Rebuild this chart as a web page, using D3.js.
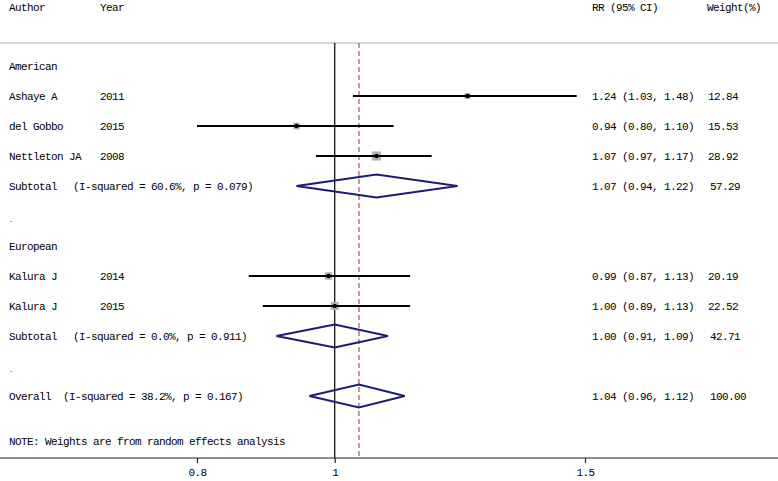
<!DOCTYPE html>
<html>
<head>
<meta charset="utf-8">
<script src="https://cdn.jsdelivr.net/npm/d3@7"></script>
<style>
  body { margin: 0; background: #fff; }
  text { font-family: "Liberation Mono", "DejaVu Sans Mono", monospace; font-size: 11px; letter-spacing: -0.6px; fill: #000; }
</style>
</head>
<body>
<svg id="forest" width="778" height="481"></svg>
<script>
// study level data
const authors = ['Ashaye A', 'del Gobbo', 'Nettleton JA', 'Kalura J', 'Kalura J'];
const years = ['2011', '2015', '2008', '2014', '2015'];
const rr = [1.24, 0.94, 1.07, 0.99, 1.00];
const lower = [1.03, 0.80, 0.97, 0.87, 0.89];
const upper = [1.48, 1.10, 1.17, 1.13, 1.13];
const weights = [12.84, 15.53, 28.92, 20.19, 22.52];
const studyRows = [1, 2, 3, 7, 8];

// pooled estimates
const poolLabels = ['Subtotal', 'Subtotal', 'Overall'];
const poolHet = ['(I-squared = 60.6%, p = 0.079)', '(I-squared = 0.0%, p = 0.911)', '(I-squared = 38.2%, p = 0.167)'];
const poolRR = [1.07, 1.00, 1.04];
const poolLower = [0.94, 0.91, 0.96];
const poolUpper = [1.22, 1.09, 1.12];
const poolWeights = ['57.29', '42.71', '100.00'];
const poolRows = [4, 9, 11];

const groupNames = ['American', 'European'];
const groupRows = [0, 6];
const spacerRows = [5, 10];

const xTicks = [0.8, 1, 1.5];

var svg = d3.select('#forest');
const width = +svg.attr('width');

var x = d3.scaleLog()
    .domain([0.8, 1.5])
    .range([197, 585]);

var row = d3.scaleLinear()
    .domain([0, 1])
    .range([66, 96]);

const topY = 43, axisY = 458;
const col = {author: 9, year: 100, rr: 592, weight: 708};
const fmt = d3.format('.2f');

// header
svg.append('text').attr('x', col.author).attr('y', 11).text('Author');
svg.append('text').attr('x', col.year).attr('y', 11).text('Year');
svg.append('text').attr('x', col.rr).attr('y', 11).text('RR (95% CI)');
svg.append('text').attr('x', col.weight - 1).attr('y', 11).text('Weight(%)');

svg.append('line')
    .attr('x1', 0).attr('x2', width)
    .attr('y1', topY).attr('y2', topY)
    .attr('stroke', '#c8c8c8').attr('stroke-width', 1.5);

// reference lines
svg.append('line')
    .attr('x1', x(1)).attr('x2', x(1))
    .attr('y1', topY).attr('y2', axisY)
    .attr('stroke', '#000').attr('stroke-width', 1.2);

svg.append('line')
    .attr('x1', x(poolRR[2])).attr('x2', x(poolRR[2]))
    .attr('y1', topY).attr('y2', axisY)
    .attr('stroke', '#a0505e').attr('stroke-width', 1.2)
    .attr('stroke-dasharray', '5,3');

// group labels + spacers
groupNames.forEach((g, i) => {
  svg.append('text').attr('x', col.author).attr('y', row(groupRows[i]) + 4).text(g);
});
spacerRows.forEach(r => {
  svg.append('text').attr('x', col.author).attr('y', row(r) + 6).text('.')
      .style('font-size', '7px');
});

// studies
var studies = authors.map((a, i) => ({
  author: a, year: years[i], rr: rr[i], lo: lower[i], hi: upper[i], w: weights[i], r: studyRows[i]
}));

var s = svg.append('g').selectAll('g')
    .data(studies)
    .enter().append('g')
    .attr('transform', d => `translate(0, ${row(d.r)})`);

s.append('text').attr('x', col.author).attr('y', 4).text(d => d.author);
s.append('text').attr('x', col.year).attr('y', 4).text(d => d.year);
s.append('rect')
    .attr('x', d => x(d.rr) - 1.7 * Math.sqrt(d.w) / 2)
    .attr('y', d => -1.7 * Math.sqrt(d.w) / 2)
    .attr('width', d => 1.7 * Math.sqrt(d.w))
    .attr('height', d => 1.7 * Math.sqrt(d.w))
    .attr('fill', '#b4b4b4');
s.append('line')
    .attr('x1', d => x(d.lo)).attr('x2', d => x(d.hi))
    .attr('y1', 0).attr('y2', 0)
    .attr('stroke', '#000').attr('stroke-width', 1.8);
s.append('circle')
    .attr('cx', d => x(d.rr)).attr('cy', 0).attr('r', 2.2)
    .attr('fill', '#000');
s.append('text').attr('x', col.rr).attr('y', 4)
    .text(d => `${fmt(d.rr)} (${fmt(d.lo)}, ${fmt(d.hi)})`);
s.append('text').attr('x', col.weight).attr('y', 4).text(d => fmt(d.w));

// pooled diamonds
var pools = poolLabels.map((p, i) => ({
  label: p, het: poolHet[i], rr: poolRR[i], lo: poolLower[i], hi: poolUpper[i], w: poolWeights[i], r: poolRows[i]
}));

var p = svg.append('g').selectAll('g')
    .data(pools)
    .enter().append('g')
    .attr('transform', d => `translate(0, ${row(d.r)})`);

p.append('text').attr('x', col.author).attr('y', 4).text(d => d.label);
p.append('text').attr('x', d => d.label === 'Overall' ? 63 : 73).attr('y', 4).text(d => d.het);
p.append('path')
    .attr('d', d => `M${x(d.lo)},0L${x(d.rr)},-11.5L${x(d.hi)},0L${x(d.rr)},11.5Z`)
    .attr('fill', 'none')
    .attr('stroke', '#1c1c78').attr('stroke-width', 2);
p.append('text').attr('x', col.rr).attr('y', 4)
    .text(d => `${fmt(d.rr)} (${fmt(d.lo)}, ${fmt(d.hi)})`);
p.append('text').attr('x', col.weight + 2).attr('y', 4).text(d => d.w);

svg.append('text').attr('x', col.author).attr('y', 445)
    .text('NOTE: Weights are from random effects analysis');

// x axis
svg.append('line')
    .attr('x1', 0).attr('x2', width)
    .attr('y1', axisY).attr('y2', axisY)
    .attr('stroke', '#222').attr('stroke-width', 1.2);

var axis = svg.append('g')
    .attr('transform', `translate(0, ${axisY})`)
    .call(d3.axisBottom(x).tickValues(xTicks).tickSize(5).tickFormat(d3.format('')));
axis.select('.domain').remove();
axis.selectAll('.tick line').attr('stroke', '#222').attr('stroke-width', 1.2);
axis.selectAll('.tick text')
    .attr('y', 10)
    .style('font-family', '"Liberation Mono", monospace')
    .style('font-size', '11px')
    .attr('fill', '#000');
</script>
</body>
</html>
